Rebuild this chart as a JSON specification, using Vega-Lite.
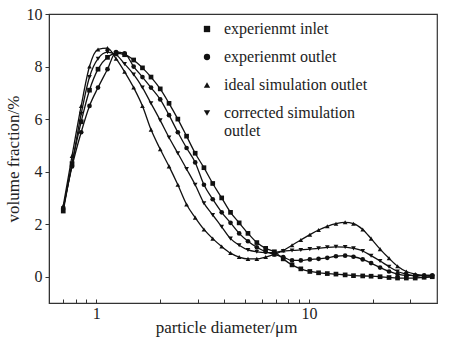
{
  "$schema": "https://vega.github.io/schema/vega-lite/v6.json",
  "width": 388,
  "height": 289,
  "autosize": {"type": "none"},
  "padding": {"left": 49, "top": 14, "right": 16, "bottom": 41},
  "background": "white",
  "config": {
    "view": {"stroke": "#333", "strokeWidth": 1.2},
    "font": "Liberation Serif",
    "axis": {"grid": false, "domainColor": "#333", "tickColor": "#333", "labelColor": "#222", "titleColor": "#222", "labelFont": "Liberation Serif", "titleFont": "Liberation Serif", "labelFontSize": 16, "titleFontSize": 17, "titleFontWeight": "normal"},
    "legend": {"labelFont": "Liberation Serif", "labelFontSize": 16, "labelColor": "#222"}
  },
  "data": {
    "values": [
      {"d": 0.70, "experienmt inlet": 2.5, "experienmt outlet": 2.6, "ideal simulation outlet": 2.7, "corrected simulation outlet": 2.6},
      {"d": 0.77, "experienmt inlet": 4.3, "experienmt outlet": 4.2, "ideal simulation outlet": 4.6, "corrected simulation outlet": 4.3},
      {"d": 0.85, "experienmt inlet": 5.9, "experienmt outlet": 5.5, "ideal simulation outlet": 6.5, "corrected simulation outlet": 6.2},
      {"d": 0.93, "experienmt inlet": 7.1, "experienmt outlet": 6.5, "ideal simulation outlet": 8.0, "corrected simulation outlet": 7.6},
      {"d": 1.02, "experienmt inlet": 7.9, "experienmt outlet": 7.2, "ideal simulation outlet": 8.65, "corrected simulation outlet": 8.3},
      {"d": 1.13, "experienmt inlet": 8.35, "experienmt outlet": 7.9, "ideal simulation outlet": 8.7, "corrected simulation outlet": 8.55},
      {"d": 1.24, "experienmt inlet": 8.5, "experienmt outlet": 8.55, "ideal simulation outlet": 8.3, "corrected simulation outlet": 8.45},
      {"d": 1.36, "experienmt inlet": 8.45, "experienmt outlet": 8.5, "ideal simulation outlet": 7.8, "corrected simulation outlet": 8.1},
      {"d": 1.50, "experienmt inlet": 8.25, "experienmt outlet": 8.0, "ideal simulation outlet": 7.2, "corrected simulation outlet": 7.7},
      {"d": 1.65, "experienmt inlet": 7.95, "experienmt outlet": 7.6, "ideal simulation outlet": 6.5, "corrected simulation outlet": 7.2},
      {"d": 1.81, "experienmt inlet": 7.6, "experienmt outlet": 7.2, "ideal simulation outlet": 5.6, "corrected simulation outlet": 6.6},
      {"d": 2.00, "experienmt inlet": 7.15, "experienmt outlet": 6.75, "ideal simulation outlet": 4.85, "corrected simulation outlet": 5.95},
      {"d": 2.20, "experienmt inlet": 6.6, "experienmt outlet": 6.15, "ideal simulation outlet": 4.2, "corrected simulation outlet": 5.3},
      {"d": 2.42, "experienmt inlet": 6.0, "experienmt outlet": 5.5, "ideal simulation outlet": 3.5, "corrected simulation outlet": 4.7},
      {"d": 2.66, "experienmt inlet": 5.35, "experienmt outlet": 4.9, "ideal simulation outlet": 2.75, "corrected simulation outlet": 4.1},
      {"d": 2.92, "experienmt inlet": 4.7, "experienmt outlet": 4.35, "ideal simulation outlet": 2.25, "corrected simulation outlet": 3.5},
      {"d": 3.21, "experienmt inlet": 4.15, "experienmt outlet": 3.5, "ideal simulation outlet": 1.8, "corrected simulation outlet": 2.8},
      {"d": 3.53, "experienmt inlet": 3.55, "experienmt outlet": 2.95, "ideal simulation outlet": 1.45, "corrected simulation outlet": 2.35},
      {"d": 3.89, "experienmt inlet": 3.0, "experienmt outlet": 2.45, "ideal simulation outlet": 1.15, "corrected simulation outlet": 1.9},
      {"d": 4.28, "experienmt inlet": 2.45, "experienmt outlet": 2.05, "ideal simulation outlet": 0.9, "corrected simulation outlet": 1.45},
      {"d": 4.70, "experienmt inlet": 2.05, "experienmt outlet": 1.65, "ideal simulation outlet": 0.75, "corrected simulation outlet": 1.2},
      {"d": 5.17, "experienmt inlet": 1.65, "experienmt outlet": 1.35, "ideal simulation outlet": 0.68, "corrected simulation outlet": 1.02},
      {"d": 5.69, "experienmt inlet": 1.3, "experienmt outlet": 1.12, "ideal simulation outlet": 0.68, "corrected simulation outlet": 0.95},
      {"d": 6.26, "experienmt inlet": 1.08, "experienmt outlet": 0.95, "ideal simulation outlet": 0.75, "corrected simulation outlet": 0.92},
      {"d": 6.88, "experienmt inlet": 0.95, "experienmt outlet": 0.85, "ideal simulation outlet": 0.85, "corrected simulation outlet": 0.92},
      {"d": 7.57, "experienmt inlet": 0.68, "experienmt outlet": 0.75, "ideal simulation outlet": 1.0, "corrected simulation outlet": 0.98},
      {"d": 8.33, "experienmt inlet": 0.45, "experienmt outlet": 0.62, "ideal simulation outlet": 1.2, "corrected simulation outlet": 1.0},
      {"d": 9.16, "experienmt inlet": 0.3, "experienmt outlet": 0.62, "ideal simulation outlet": 1.4, "corrected simulation outlet": 1.02},
      {"d": 10.1, "experienmt inlet": 0.2, "experienmt outlet": 0.66, "ideal simulation outlet": 1.6, "corrected simulation outlet": 1.05},
      {"d": 11.1, "experienmt inlet": 0.15, "experienmt outlet": 0.68, "ideal simulation outlet": 1.78, "corrected simulation outlet": 1.08},
      {"d": 12.2, "experienmt inlet": 0.12, "experienmt outlet": 0.72, "ideal simulation outlet": 1.92, "corrected simulation outlet": 1.12},
      {"d": 13.4, "experienmt inlet": 0.1, "experienmt outlet": 0.78, "ideal simulation outlet": 2.02, "corrected simulation outlet": 1.14},
      {"d": 14.8, "experienmt inlet": 0.07, "experienmt outlet": 0.8, "ideal simulation outlet": 2.07, "corrected simulation outlet": 1.13},
      {"d": 16.2, "experienmt inlet": 0.04, "experienmt outlet": 0.76, "ideal simulation outlet": 2.02, "corrected simulation outlet": 1.08},
      {"d": 17.9, "experienmt inlet": 0.03, "experienmt outlet": 0.66, "ideal simulation outlet": 1.8, "corrected simulation outlet": 0.98},
      {"d": 19.6, "experienmt inlet": 0.02, "experienmt outlet": 0.52, "ideal simulation outlet": 1.45, "corrected simulation outlet": 0.8},
      {"d": 21.6, "experienmt inlet": 0.0, "experienmt outlet": 0.35, "ideal simulation outlet": 1.05, "corrected simulation outlet": 0.6},
      {"d": 23.8, "experienmt inlet": -0.03, "experienmt outlet": 0.2, "ideal simulation outlet": 0.7, "corrected simulation outlet": 0.38},
      {"d": 26.1, "experienmt inlet": -0.05, "experienmt outlet": 0.1, "ideal simulation outlet": 0.4, "corrected simulation outlet": 0.2},
      {"d": 28.7, "experienmt inlet": -0.05, "experienmt outlet": 0.05, "ideal simulation outlet": 0.2, "corrected simulation outlet": 0.1},
      {"d": 31.6, "experienmt inlet": -0.05, "experienmt outlet": 0.05, "ideal simulation outlet": 0.1, "corrected simulation outlet": 0.02},
      {"d": 34.8, "experienmt inlet": -0.02, "experienmt outlet": 0.05, "ideal simulation outlet": 0.05, "corrected simulation outlet": -0.03},
      {"d": 38.0, "experienmt inlet": 0.0, "experienmt outlet": 0.05, "ideal simulation outlet": 0.05, "corrected simulation outlet": 0.0}
    ]
  },
  "transform": [
    {"fold": ["experienmt inlet", "experienmt outlet", "ideal simulation outlet", "corrected simulation outlet"], "as": ["series", "v"]}
  ],
  "encoding": {
    "x": {
      "field": "d", "type": "quantitative",
      "scale": {"type": "log", "domain": [0.6, 40], "nice": false},
      "axis": {
        "title": "particle diameter/μm",
        "values": [0.7, 0.8, 0.9, 1, 2, 3, 4, 5, 6, 7, 8, 9, 10, 20, 30],
        "labelExpr": "datum.value == 1 || datum.value == 10 ? datum.label : ''",
        "tickSize": -4,
        "labelPadding": 6,
        "titlePadding": -2,
        "titleX": 177,
        "labelFlush": false
      }
    },
    "y": {
      "field": "v", "type": "quantitative",
      "scale": {"domain": [-1, 10], "nice": false, "zero": false},
      "axis": {"title": "volume fraction/%", "values": [0, 2, 4, 6, 8, 10], "tickSize": 4, "labelPadding": 3, "titlePadding": 4}
    }
  },
  "layer": [
    {
      "mark": {"type": "line", "interpolate": "monotone", "color": "#111", "strokeWidth": 1.3},
      "encoding": {"detail": {"field": "series"}}
    },
    {
      "mark": {"type": "point", "filled": true, "color": "#111", "opacity": 1, "size": 22},
      "encoding": {
        "shape": {
          "field": "series", "type": "nominal",
          "scale": {"domain": ["experienmt inlet", "experienmt outlet", "ideal simulation outlet", "corrected simulation outlet"], "range": ["square", "circle", "triangle-up", "triangle-down"]},
          "legend": {
            "title": null,
            "orient": "none",
            "legendX": 150,
            "legendY": 7,
            "symbolSize": 40,
            "symbolFillColor": "#111",
            "symbolStrokeColor": "#111",
            "rowPadding": 12,
            "labelOffset": 9,
            "labelExpr": "datum.label == 'corrected simulation outlet' ? ['corrected simulation', 'outlet'] : datum.label"
          }
        }
      }
    }
  ]
}
